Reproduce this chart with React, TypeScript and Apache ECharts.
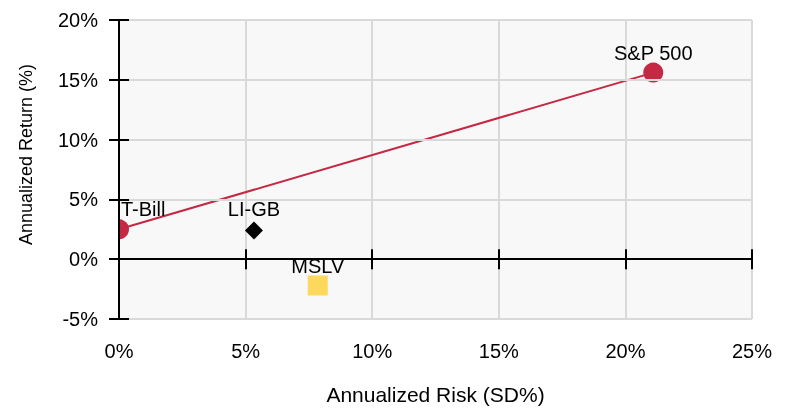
import React, { useEffect, useRef } from "react";
import * as echarts from "echarts";

const assetNames = ["T-Bill", "LI-GB", "MSLV", "S&P 500"];
const riskValues = [0, 5.33, 7.85, 21.1];
const returnValues = [2.5, 2.4, -2.2, 15.6];
const xTicks = [0, 5, 10, 15, 20, 25];
const yTicks = [-5, 0, 5, 10, 15, 20];

const FONT = "'Liberation Sans', Arial, sans-serif";
const RED = "#c42842";

export default function App() {
  const ref = useRef<HTMLDivElement>(null);
  useEffect(() => {
    if (!ref.current) return;
    const chart = echarts.init(ref.current, undefined, { renderer: "svg" });
    const xMin = xTicks[0], xMax = xTicks[xTicks.length - 1];
    const yMin = yTicks[0], yMax = yTicks[yTicks.length - 1];
    const xInt = xTicks[1] - xTicks[0];
    const yInt = yTicks[1] - yTicks[0];
    const pt = (i: number) => [riskValues[i], returnValues[i]];
    const lbl = { show: true, position: "top", distance: 0, color: "#000", opacity: 1, fontSize: 20, fontFamily: FONT };
    const baseX = { type: "value", min: xMin, max: xMax, interval: xInt, gridIndex: 0 };
    const baseY = { type: "value", min: yMin, max: yMax, interval: yInt, gridIndex: 0 };
    chart.setOption({
      animation: false,
      textStyle: { fontFamily: FONT },
      grid: { left: 119, right: 35, top: 20, bottom: 90, show: true, backgroundColor: "#f8f8f8", borderWidth: 0 },
      xAxis: [
        {
          ...baseX,
          position: "bottom",
          axisLine: { show: false, onZero: false },
          axisTick: { show: false },
          axisLabel: { formatter: "{value}%", fontSize: 20, color: "#000", margin: 22, fontFamily: FONT },
          splitLine: { show: true, lineStyle: { color: "#d9d9d9", width: 2 } },
          name: "Annualized Risk (SD%)",
          nameLocation: "middle",
          nameGap: 65,
          nameTextStyle: { fontSize: 21, color: "#000", fontFamily: FONT },
        },
        {
          ...baseX,
          z: 10,
          axisLine: { show: true, onZero: true, onZeroAxisIndex: 0, lineStyle: { color: "#000", width: 2 } },
          axisTick: { show: true, inside: false, length: 10, lineStyle: { color: "#000", width: 2 } },
          axisLabel: { show: false },
          splitLine: { show: false },
        },
        {
          ...baseX,
          z: 10,
          axisLine: { show: false, onZero: true, onZeroAxisIndex: 0 },
          axisTick: { show: true, inside: true, length: 10, lineStyle: { color: "#000", width: 2 } },
          axisLabel: { show: false },
          splitLine: { show: false },
        },
      ],
      yAxis: [
        {
          ...baseY,
          position: "left",
          z: 10,
          axisLine: { show: true, onZero: false, lineStyle: { color: "#000", width: 2 } },
          axisTick: { show: true, inside: false, length: 10, lineStyle: { color: "#000", width: 2 } },
          axisLabel: { formatter: "{value}%", fontSize: 20, color: "#000", margin: 21, fontFamily: FONT },
          splitLine: { show: true, lineStyle: { color: "#d9d9d9", width: 2 } },
          name: "Annualized Return (%)",
          nameLocation: "middle",
          nameGap: 84,
          nameRotate: 90,
          nameTextStyle: { fontSize: 18, color: "#000", fontFamily: FONT, padding: [0, 0, 0, 30] },
        },
        {
          ...baseY,
          position: "left",
          z: 10,
          axisLine: { show: false, onZero: false },
          axisTick: { show: true, inside: true, length: 10, lineStyle: { color: "#000", width: 2 } },
          axisLabel: { show: false },
          splitLine: { show: false },
        },
      ],
      graphic: [
        { type: "rect", z: 5, shape: { x: 0, y: 216, width: 118, height: 28 }, style: { fill: "#fff" } },
      ],
      series: [
        {
          type: "line",
          xAxisIndex: 0,
          yAxisIndex: 0,
          symbol: "circle",
          symbolSize: 20,
          lineStyle: { color: RED, width: 2 },
          itemStyle: { color: RED, opacity: 1 },
          clip: false,
          data: [
            { value: pt(0), name: assetNames[0], label: { ...lbl, align: "left", offset: [2, 0], formatter: assetNames[0] } },
            { value: pt(3), name: assetNames[3], label: { ...lbl, formatter: assetNames[3] } },
          ],
        },
        {
          type: "scatter",
          xAxisIndex: 0,
          yAxisIndex: 0,
          symbol: "diamond",
          symbolSize: 18,
          itemStyle: { color: "#000", opacity: 1 },
          data: [{ value: pt(1), name: assetNames[1], label: { ...lbl, distance: 2, formatter: assetNames[1] } }],
        },
        {
          type: "scatter",
          xAxisIndex: 0,
          yAxisIndex: 0,
          symbol: "rect",
          symbolSize: 20,
          itemStyle: { color: "#fcd95c", opacity: 1 },
          data: [{ value: pt(2), name: assetNames[2], label: { ...lbl, formatter: assetNames[2] } }],
        },
      ],
    });
    return () => chart.dispose();
  }, []);
  return <div ref={ref} style={{ position: "fixed", left: 0, top: 0, width: 787, height: 410 }} />;
}
